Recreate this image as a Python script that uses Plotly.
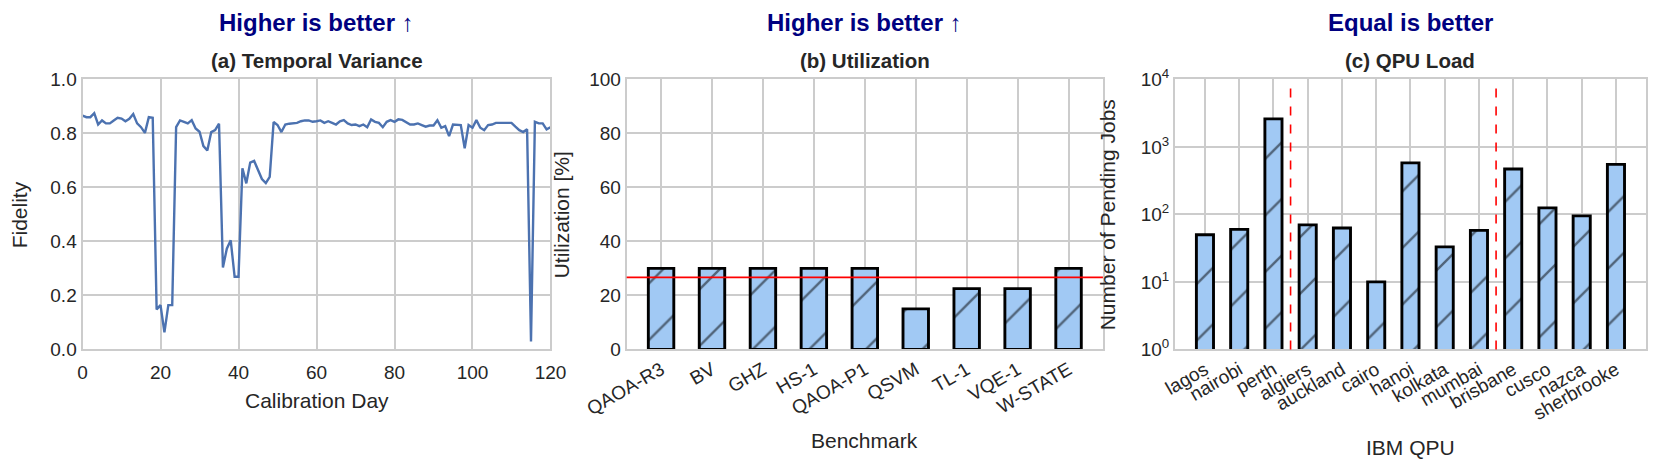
import plotly.graph_objects as go

# (a) fidelity per calibration day
days = list(range(121))
fidelity = [
    0.866, 0.860, 0.860, 0.875, 0.833, 0.848, 0.837, 0.837, 0.848, 0.858,
    0.855, 0.845, 0.854, 0.872, 0.837, 0.823, 0.802, 0.860, 0.858, 0.148,
    0.164, 0.063, 0.164, 0.164, 0.823, 0.848, 0.843, 0.837, 0.849, 0.818,
    0.806, 0.753, 0.737, 0.805, 0.812, 0.836, 0.303, 0.373, 0.404, 0.269,
    0.269, 0.671, 0.615, 0.692, 0.698, 0.667, 0.631, 0.616, 0.639, 0.842,
    0.831, 0.805, 0.833, 0.836, 0.837, 0.839, 0.845, 0.848, 0.848, 0.843,
    0.845, 0.848, 0.839, 0.845, 0.839, 0.833, 0.845, 0.849, 0.837, 0.831,
    0.833, 0.827, 0.833, 0.823, 0.852, 0.843, 0.839, 0.823, 0.843, 0.849,
    0.843, 0.852, 0.850, 0.843, 0.833, 0.833, 0.837, 0.831, 0.825, 0.829,
    0.829, 0.849, 0.821, 0.827, 0.790, 0.833, 0.831, 0.831, 0.745, 0.831,
    0.821, 0.849, 0.821, 0.812, 0.831, 0.833, 0.839, 0.839, 0.837, 0.839,
    0.839, 0.825, 0.812, 0.805, 0.815, 0.029, 0.843, 0.837, 0.837, 0.815,
    0.823,
]

# (b) utilization per benchmark
benchmarks = ["QAOA-R3", "BV", "GHZ", "HS-1", "QAOA-P1", "QSVM", "TL-1", "VQE-1", "W-STATE"]
utilization = [30, 30, 30, 30, 30, 15, 22.5, 22.5, 30]

# (c) pending jobs per QPU
qpus = ["lagos", "nairobi", "perth", "algiers", "auckland", "cairo", "hanoi",
        "kolkata", "mumbai", "brisbane", "cusco", "nazca", "sherbrooke"]
pending_jobs = [50, 60, 2600, 70, 63, 10, 580, 33, 58, 470, 125, 95, 550]
qpu_splits = [2.5, 8.5]

FONT = "Liberation Sans, Arial, sans-serif"
TEXT = "#262626"
GRID = "#cccccc"
BAR_FILL = "#a1c9f4"

# plot areas in paper coords
DOM_X = [[0.0449, 0.3268], [0.3727, 0.6596], [0.7030, 0.9867]]
DOM_Y = [0.2752, 0.8484]

fig = go.Figure()

fig.add_trace(go.Scatter(
    x=days, y=fidelity, mode="lines",
    line=dict(color="#4c72b0", width=2.4),
    xaxis="x", yaxis="y", showlegend=False,
))

bar_style = dict(
    color=BAR_FILL,
    line=dict(color="black", width=2.9),
    pattern=dict(shape="/", fillmode="overlay", fgcolor="black", size=40, solidity=0.06),
)

fig.add_trace(go.Bar(
    x=benchmarks, y=utilization, width=0.5, marker=bar_style,
    xaxis="x2", yaxis="y2", showlegend=False,
))

fig.add_trace(go.Bar(
    x=qpus, y=pending_jobs, width=0.5, marker=bar_style,
    xaxis="x3", yaxis="y3", showlegend=False,
))

axis_common = dict(
    showgrid=True, gridcolor=GRID, gridwidth=1.5,
    showline=True, linecolor=GRID, linewidth=2, mirror=True,
    zeroline=False, ticks="", automargin=False,
    tickfont=dict(family=FONT, size=19, color=TEXT),
)

fig.update_layout(
    width=1660, height=471,
    margin=dict(l=0, r=0, t=0, b=0),
    paper_bgcolor="white", plot_bgcolor="white",
    xaxis=dict(domain=DOM_X[0], range=[0, 120], tickvals=[0, 20, 40, 60, 80, 100, 120],
               ticklabelstandoff=5, anchor="y", **axis_common),
    yaxis=dict(domain=DOM_Y, range=[0, 1], tickvals=[0, 0.2, 0.4, 0.6, 0.8, 1.0],
               tickformat=".1f", anchor="x", **axis_common),
    xaxis2=dict(domain=DOM_X[1], range=[-0.675, 8.675], tickangle=-30,
                anchor="y2", **axis_common),
    yaxis2=dict(domain=DOM_Y, range=[0, 100], tickvals=[0, 20, 40, 60, 80, 100],
                anchor="x2", **axis_common),
    xaxis3=dict(domain=DOM_X[2], range=[-0.875, 12.875], tickangle=-30,
                anchor="y3", **axis_common),
    yaxis3=dict(domain=DOM_Y, type="log", range=[0, 4],
                tickvals=[1, 10, 100, 1000, 10000],
                ticktext=["10<sup>0</sup>", "10<sup>1</sup>", "10<sup>2</sup>",
                          "10<sup>3</sup>", "10<sup>4</sup>"],
                anchor="x3", **axis_common),
)

# mean utilization line
mean_util = sum(utilization) / len(utilization)
fig.add_shape(type="line", xref="x2 domain", yref="y2", x0=0, x1=1,
              y0=mean_util, y1=mean_util, line=dict(color="red", width=1.6))

for xs in qpu_splits:
    fig.add_shape(type="line", xref="x3", yref="y3 domain", x0=xs, x1=xs, y0=0, y1=1,
                  line=dict(color="red", width=1.6, dash="dash"))


def note(x, y, text, size, color=TEXT, angle=0):
    fig.add_annotation(x=x, y=y, xref="paper", yref="paper", text=text, textangle=angle,
                       xanchor="center", yanchor="middle", showarrow=False,
                       font=dict(family=FONT, size=size, color=color))


# titles
headers = ["Higher is better ↑", "Higher is better ↑", "Equal is better"]
subtitles = ["(a) Temporal Variance", "(b) Utilization", "(c) QPU Load"]
for dom, head, sub in zip(DOM_X, headers, subtitles):
    cx = (dom[0] + dom[1]) / 2
    note(cx, 0.9682, f"<b>{head}</b>", 24, "#000080")
    note(cx, 0.8875, f"<b>{sub}</b>", 20.5)

# axis titles
ymid = (DOM_Y[0] + DOM_Y[1]) / 2
x_titles = [("Calibration Day", 0.1677), ("Benchmark", 0.0807), ("IBM QPU", 0.0679)]
y_titles = [("Fidelity", 0.0066), ("Utilization [%]", 0.3331), ("Number of Pending Jobs", 0.662)]
for dom, (txt, yy) in zip(DOM_X, x_titles):
    note((dom[0] + dom[1]) / 2, yy, txt, 21)
for txt, xx in y_titles:
    note(xx, ymid, txt, 21, angle=-90)

fig.write_html("out.html")
